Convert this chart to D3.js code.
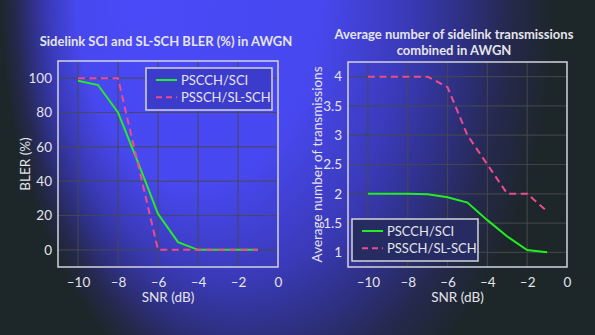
<!DOCTYPE html>
<html>
<head>
<meta charset="utf-8">
<script src="https://cdn.jsdelivr.net/npm/d3@7"></script>
<style>
  html, body { margin: 0; padding: 0; background: #1d2628; }
  svg { display: block; font-family: Lato, "Open Sans", sans-serif; }
</style>
</head>
<body>
<div class="chart"></div>
<script>
// SNR points shared by both panels (dB)
const snr = [-10, -9, -8, -7, -6, -5, -4, -3, -2, -1];

// Left panel: BLER (%)
const blerSci = [98.5, 96, 80, 51, 21, 4.5, 0, 0, 0, 0];
const blerSlsch = [100, 100, 100, 50, 0, 0, 0, 0, 0, 0];

// Right panel: average number of transmissions combined
const txSci = [2.0, 2.0, 2.0, 1.99, 1.94, 1.85, 1.55, 1.27, 1.04, 1.0];
const txSlsch = [4.0, 4.0, 4.0, 4.0, 3.82, 3.0, 2.5, 2.0, 2.0, 1.7];

const seriesNames = ["PSCCH/SCI", "PSSCH/SL-SCH"];
const xTicks = [-10, -8, -6, -4, -2, 0];
const blerTicks = [0, 20, 40, 60, 80, 100];
const txTicks = [1, 1.5, 2, 2.5, 3, 3.5, 4];

const W = 595, H = 335;
const textColor = "#e4e4ec";
const green = "#22ee22", pink = "#ee4a8e";

const svg = d3.select(".chart")
  .append("svg")
    .attr("width", W)
    .attr("height", H);

// background glow, brightest upper left of centre
const defs = svg.append("defs");
const grad = defs.append("radialGradient")
    .attr("id", "bg")
    .attr("gradientUnits", "userSpaceOnUse")
    .attr("cx", 290).attr("cy", 0).attr("r", 300)
    .attr("fx", 135).attr("fy", 0)
    .attr("gradientTransform", "scale(1,1.55)");
[[0, "#4a4af8"], [0.4, "#4848f0"], [0.6, "#3a3ab8"], [0.72, "#2e3082"], [0.82, "#25294e"], [0.93, "#1d2628"]]
  .forEach(([o, c]) => grad.append("stop").attr("offset", o).attr("stop-color", c));

svg.append("rect").attr("width", W).attr("height", H).attr("fill", "url(#bg)");

function drawPanel(p) {
  const x = d3.scaleLinear().domain([-11, 0]).range([p.left, p.right]);
  const y = d3.scaleLinear().domain(p.yDomain).range([p.bottom, p.top]);
  const g = svg.append("g");

  // grid
  g.append("g")
    .selectAll("line")
    .data(xTicks.filter(d => d !== 0))
    .join("line")
      .attr("x1", d => x(d)).attr("x2", d => x(d))
      .attr("y1", p.top).attr("y2", p.bottom)
      .attr("stroke", "rgba(72,72,78,0.8)")
      .attr("stroke-width", 1.2);
  g.append("g")
    .selectAll("line")
    .data(p.yTicks)
    .join("line")
      .attr("x1", p.left).attr("x2", p.right)
      .attr("y1", d => y(d)).attr("y2", d => y(d))
      .attr("stroke", "rgba(72,72,78,0.8)")
      .attr("stroke-width", 1.2);

  // tick labels
  const xAxis = g.append("g")
      .attr("transform", `translate(0,${p.bottom + 4})`)
      .call(d3.axisBottom(x).tickValues(xTicks).tickSize(0).tickPadding(6)
        .tickFormat(d => d < 0 ? "\u2013" + Math.abs(d) : d));
  const yAxis = g.append("g")
      .attr("transform", `translate(${p.left - 3},0)`)
      .call(d3.axisLeft(y).tickValues(p.yTicks).tickSize(0).tickPadding(3)
        .tickFormat(d3.format("~g")));
  [xAxis, yAxis].forEach(a => {
    a.select(".domain").remove();
    a.selectAll("text")
      .attr("fill", textColor)
      .style("font-size", "13.5px")
      .style("font-family", "Lato, sans-serif");
  });

  // lines
  const line = d3.line().x((d, i) => x(snr[i])).y(d => y(d));
  g.append("path")
    .datum(p.sci)
    .attr("d", line)
    .attr("fill", "none")
    .attr("stroke", green)
    .attr("stroke-width", 2);
  g.append("path")
    .datum(p.slsch)
    .attr("d", line)
    .attr("fill", "none")
    .attr("stroke", pink)
    .attr("stroke-width", 2)
    .attr("stroke-dasharray", "7,4.5");

  // frame
  g.append("rect")
    .attr("x", p.left).attr("y", p.top)
    .attr("width", p.right - p.left).attr("height", p.bottom - p.top)
    .attr("fill", "none")
    .attr("stroke", "#d4d4dc")
    .attr("stroke-width", 1.5);

  // legend
  const lg = g.append("g").attr("transform", `translate(${p.legend.x},${p.legend.y})`);
  lg.append("rect")
    .attr("width", p.legend.w).attr("height", 42)
    .attr("fill", p.legend.fill)
    .attr("stroke", "#d4d4dc")
    .attr("stroke-width", 1.5);
  seriesNames.forEach((name, i) => {
    const ly = 12 + i * 17.3;
    lg.append("line")
      .attr("x1", 10).attr("x2", 31)
      .attr("y1", ly).attr("y2", ly)
      .attr("stroke", i === 0 ? green : pink)
      .attr("stroke-width", 2)
      .attr("stroke-dasharray", i === 0 ? null : "6,4");
    lg.append("text")
      .attr("x", 35).attr("y", ly + 5)
      .attr("fill", textColor)
      .style("font-size", "13px")
      .text(name);
  });

  // axis titles
  g.append("text")
    .attr("x", (p.left + p.right) / 2)
    .attr("y", p.bottom + 35)
    .attr("text-anchor", "middle")
    .attr("fill", textColor)
    .style("font-size", "13.5px")
    .text("SNR (dB)");
  g.append("text")
    .attr("transform", `translate(${p.yLabelX},${(p.top + p.bottom) / 2}) rotate(-90)`)
    .attr("text-anchor", "middle")
    .attr("fill", textColor)
    .style("font-size", "13.5px")
    .text(p.yLabel);

  // chart title
  p.title.forEach((t, i) => {
    g.append("text")
      .attr("x", p.titleX)
      .attr("y", p.titleY + i * 16)
      .attr("text-anchor", "middle")
      .attr("fill", textColor)
      .style("font-size", "13px")
      .style("font-weight", "bold")
      .text(t);
  });
}

drawPanel({
  left: 58, right: 278, top: 61, bottom: 267,
  yDomain: [-10, 110], yTicks: blerTicks,
  sci: blerSci, slsch: blerSlsch,
  yLabel: "BLER (%)", yLabelX: 30,
  title: ["Sidelink SCI and SL-SCH BLER (%) in AWGN"], titleX: 166, titleY: 46,
  legend: {x: 146, y: 68, w: 126, fill: "#3c3ccc"}
});

drawPanel({
  left: 348, right: 567, top: 62, bottom: 267,
  yDomain: [0.75, 4.25], yTicks: txTicks,
  sci: txSci, slsch: txSlsch,
  yLabel: "Average number of transmissions", yLabelX: 322,
  title: ["Average number of sidelink transmissions", "combined in AWGN"], titleX: 454, titleY: 38.5,
  legend: {x: 352, y: 219, w: 126, fill: "#262c62"}
});
</script>
</body>
</html>
